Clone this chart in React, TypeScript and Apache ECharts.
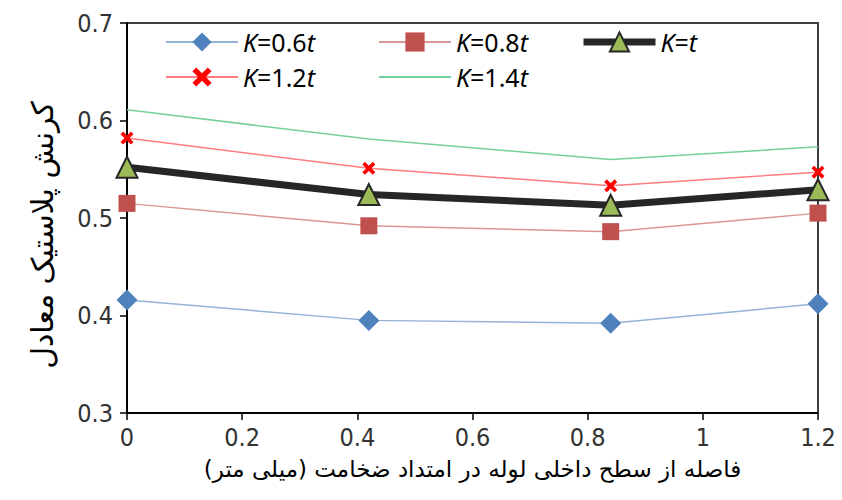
import React, { useEffect, useRef } from "react";
import * as echarts from "echarts";

const xValues = [0, 0.42, 0.84, 1.2];
const k06 = [0.416, 0.395, 0.392, 0.412];
const k08 = [0.515, 0.492, 0.486, 0.505];
const k10 = [0.552, 0.524, 0.513, 0.529];
const k12 = [0.582, 0.551, 0.533, 0.547];
const k14 = [0.611, 0.581, 0.56, 0.573];
const seriesNames = ["K=0.6t", "K=0.8t", "K=t", "K=1.2t", "K=1.4t"];
const xTitle = "فاصله از سطح داخلی لوله در امتداد ضخامت (میلی متر)";
const yTitle = "کرنش پلاستیک معادل";

const crossPath =
  "path://M2,0 L5,3 L8,0 L10,2 L7,5 L10,8 L8,10 L5,7 L2,10 L0,8 L3,5 L0,2 Z";

const pairs = (ys: number[]) => xValues.map((x, i) => [x, ys[i]]);

export default function App() {
  const ref = useRef<HTMLDivElement>(null);
  useEffect(() => {
    document.body.style.margin = "0";
    if (!ref.current) return;
    const chart = echarts.init(ref.current, null, { renderer: "svg" });
    const legendText = {
      fontFamily: "Noto Sans",
      fontSize: 25,
      lineHeight: 30,
      color: "#000",
      rich: {
        i: { fontFamily: "Noto Sans", fontSize: 25, lineHeight: 30, fontStyle: "italic", color: "#000" },
        n: { fontFamily: "Noto Sans", fontSize: 25, lineHeight: 30, color: "#000" },
      },
    };
    const fmt = (name: string) => `{i|K}{n|=${name.slice(2, -1)}}{i|t}`;
    const legendPos: [number, number][] = [
      [165, 27],
      [378, 27],
      [580, 27],
      [165, 62],
      [378, 62],
    ];
    const legendItem = (n: string, i: number) => {
      if (i === 4) return { name: n, itemStyle: { opacity: 0 } };
      if (i === 2) return { name: n, lineStyle: { width: 7 } };
      return n;
    };
    const legends = seriesNames.map((n, i) => ({
      data: [legendItem(n, i)],
      left: legendPos[i][0],
      top: legendPos[i][1],
      itemWidth: 72,
      itemHeight: 24,
      padding: 0,
      itemGap: 0,
      textStyle: legendText,
      formatter: fmt,
      selectedMode: false,
    }));
    const labelFont = { fontFamily: "Liberation Sans Narrow, DejaVu Sans Condensed, sans-serif", fontSize: 25, color: "#333" };
    chart.setOption({
      animation: false,
      backgroundColor: "#fff",
      legend: legends,
      grid: {
        left: 127,
        right: 24,
        top: 23,
        bottom: 87,
        show: true,
        borderColor: "#404040",
        borderWidth: 2,
      },
      xAxis: {
        type: "value",
        min: 0,
        max: 1.2,
        interval: 0.2,
        splitLine: { show: false },
        axisLine: { lineStyle: { color: "#000", width: 2 } },
        axisTick: { show: true, inside: false, length: 7, lineStyle: { color: "#000", width: 1.5 } },
        axisLabel: { ...labelFont, margin: 12 },
        name: xTitle,
        nameLocation: "middle",
        nameGap: 44,
        nameTextStyle: { fontFamily: "DejaVu Sans", fontSize: 23, color: "#000" },
      },
      yAxis: {
        type: "value",
        min: 0.3,
        max: 0.7,
        interval: 0.1,
        splitLine: { show: false },
        axisLine: { show: true, lineStyle: { color: "#000", width: 2 } },
        axisTick: { show: true, inside: false, length: 7, lineStyle: { color: "#000", width: 1.5 } },
        axisLabel: { ...labelFont, margin: 14, formatter: (v: number) => v.toFixed(1) },
        name: yTitle,
        nameLocation: "middle",
        nameRotate: 90,
        nameGap: 70,
        nameTextStyle: { fontFamily: "DejaVu Sans", fontSize: 30, color: "#000", padding: [0, 34, 0, 0] },
      },
      series: [
        {
          name: seriesNames[0],
          type: "line",
          data: pairs(k06),
          symbol: "diamond",
          symbolSize: 21,
          itemStyle: { color: "#4F81BD" },
          lineStyle: { color: "#95B3D7", width: 1.5 },
          z: 3,
        },
        {
          name: seriesNames[1],
          type: "line",
          data: pairs(k08),
          symbol: "rect",
          symbolSize: 17,
          itemStyle: { color: "#C0504D" },
          lineStyle: { color: "#D99694", width: 1.5 },
          z: 3,
        },
        {
          name: seriesNames[2],
          type: "line",
          data: pairs(k10),
          symbol: "triangle",
          symbolSize: 21,
          itemStyle: { color: "#9BBB59", borderColor: "#262626", borderWidth: 2 },
          lineStyle: { color: "#262626", width: 7 },
          z: 4,
        },
        {
          name: seriesNames[3],
          type: "line",
          data: pairs(k12),
          symbol: crossPath,
          symbolSize: 13,
          itemStyle: { color: "#FF0000" },
          lineStyle: { color: "#FF7C80", width: 1.5 },
          z: 3,
        },
        {
          name: seriesNames[4],
          type: "line",
          data: pairs(k14),
          symbol: "none",
          itemStyle: { color: "#77D09A" },
          lineStyle: { color: "#77D09A", width: 1.5 },
          z: 3,
        },
      ],
    });
    return () => chart.dispose();
  }, []);
  return <div ref={ref} style={{ width: 842, height: 500 }} />;
}
